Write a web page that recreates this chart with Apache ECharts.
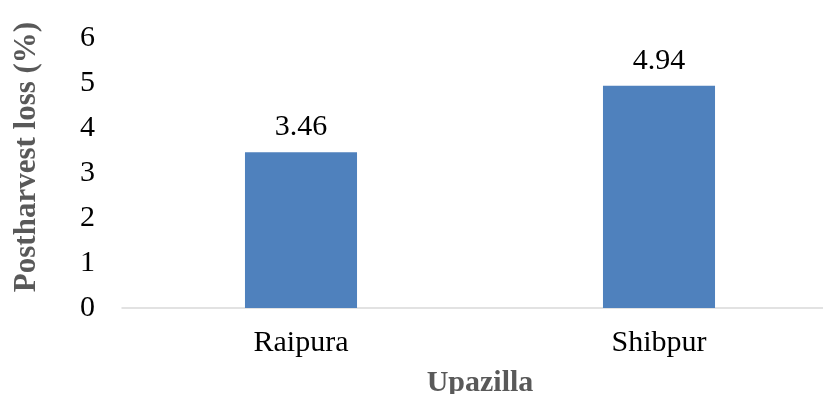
<!DOCTYPE html>
<html>
<head>
<meta charset="utf-8">
<script src="https://cdn.jsdelivr.net/npm/echarts@6/dist/echarts.min.js"></script>
<style>
  html, body { margin: 0; padding: 0; background: #fff; }
  #chart { width: 823px; height: 394px; }
</style>
</head>
<body>
<div id="chart"></div>
<script>
// Postharvest loss by upazilla
var categories = ['Raipura', 'Shibpur'];
var lossValues = [3.46, 4.94];
var yTicks = [0, 1, 2, 3, 4, 5, 6];

var serif = '"Liberation Serif", "Times New Roman", serif';

var chart = echarts.init(document.getElementById('chart'), null, { renderer: 'canvas' });
chart.setOption({
  animation: false,
  backgroundColor: '#ffffff',
  grid: {
    left: 122, top: 38, width: 716, height: 270,
    containLabel: false,
    outerBoundsMode: 'none'
  },
  xAxis: {
    type: 'category',
    data: categories,
    name: 'Upazilla',
    nameLocation: 'middle',
    nameGap: 60,
    nameTextStyle: { fontFamily: serif, fontWeight: 'bold', fontSize: 30, color: '#595959' },
    axisLine: { lineStyle: { color: '#d9d9d9', width: 1.5 } },
    axisTick: { show: false },
    axisLabel: { fontFamily: serif, fontSize: 30, color: '#000', margin: 20 }
  },
  yAxis: {
    type: 'value',
    min: yTicks[0],
    max: yTicks[yTicks.length - 1],
    interval: 1,
    name: 'Postharvest loss (%)',
    nameLocation: 'middle',
    nameGap: 80,
    nameRotate: 90,
    nameTextStyle: {
      fontFamily: serif, fontWeight: 'bold', fontSize: 31, color: '#595959',
      padding: [0, 0, 0, 32]
    },
    axisLine: { show: false },
    axisTick: { show: false },
    splitLine: { show: false },
    axisLabel: { fontFamily: serif, fontSize: 30, color: '#000', margin: 27 }
  },
  series: [{
    type: 'bar',
    data: lossValues,
    barWidth: '31.3%',
    itemStyle: { color: '#4f81bd' },
    label: {
      show: true,
      position: 'top',
      distance: 10,
      fontFamily: serif,
      fontSize: 30,
      color: '#000',
      formatter: function (p) { return p.value.toFixed(2); }
    }
  }]
});
</script>
</body>
</html>
